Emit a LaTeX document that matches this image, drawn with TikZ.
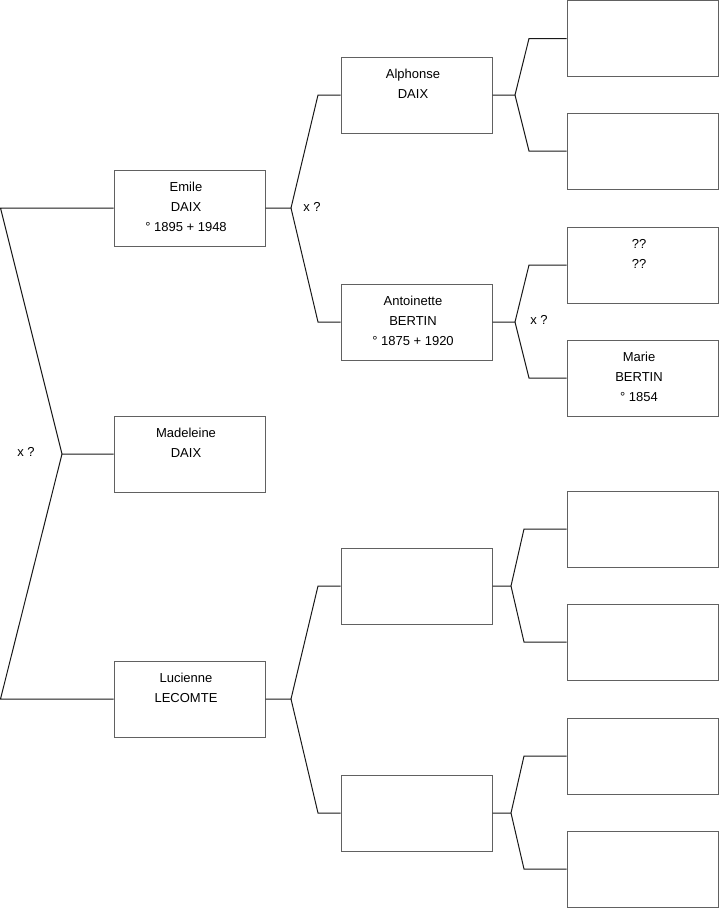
\documentclass[tikz,border=0pt]{standalone}
\usepackage{fontspec}
\setmainfont{Liberation Sans}
\newcommand{\ptxt}[1]{\parbox[b][76pt][t]{151pt}{\centering\rightskip=7pt plus 1fil\relax\fontsize{13pt}{20pt}\selectfont\rule{0pt}{21pt}#1}}
\begin{document}
\begin{tikzpicture}[x=1pt,y=-1pt,
  person/.style={draw=black!62,line width=1pt,inner sep=0pt,minimum width=151pt,minimum height=76pt},
  link/.style={draw=black!90,line width=1pt},
  marr/.style={font=\fontsize{13pt}{15pt}\selectfont,inner sep=0pt}]
\useasboundingbox (0,0) rectangle (719,908);
% generation 1
\node[person] (emile) at (189.5,208) {\ptxt{Emile\\DAIX\\° 1895 + 1948}};
\node[person] (madeleine) at (189.5,454) {\ptxt{Madeleine\\DAIX}};
\node[person] (lucienne) at (189.5,699) {\ptxt{Lucienne\\LECOMTE}};
% generation 2
\node[person] (alphonse) at (416.5,95) {\ptxt{Alphonse\\DAIX}};
\node[person] (antoinette) at (416.5,322) {\ptxt{Antoinette\\BERTIN\\° 1875 + 1920}};
\node[person] (ea) at (416.5,586) {\ptxt{}};
\node[person] (eb) at (416.5,813) {\ptxt{}};
% generation 3
\node[person] (r1) at (642.5,38.5) {\ptxt{}};
\node[person] (r2) at (642.5,151) {\ptxt{}};
\node[person] (r3) at (642.5,265) {\ptxt{??\\??}};
\node[person] (r4) at (642.5,378) {\ptxt{Marie\\BERTIN\\° 1854}};
\node[person] (r5) at (642.5,529) {\ptxt{}};
\node[person] (r6) at (642.5,642) {\ptxt{}};
\node[person] (r7) at (642.5,756) {\ptxt{}};
\node[person] (r8) at (642.5,869) {\ptxt{}};
% junction coordinates
\coordinate (c0a) at (0.5,208);
\coordinate (j0) at (62,454);
\coordinate (c0b) at (0.5,699);
\coordinate (j1) at (291,208);
\coordinate (c1a) at (318,95);
\coordinate (c1b) at (318,322);
\coordinate (j2) at (515,95);
\coordinate (c2a) at (529,38.5);
\coordinate (c2b) at (529,151);
\coordinate (j3) at (515,322);
\coordinate (c3a) at (529,265);
\coordinate (c3b) at (529,378);
\coordinate (j4) at (511,586);
\coordinate (c4a) at (524,529);
\coordinate (c4b) at (524,642);
\coordinate (j5) at (511,813);
\coordinate (c5a) at (524,756);
\coordinate (c5b) at (524,869);
\coordinate (j6) at (291,699);
\coordinate (c6a) at (318,586);
\coordinate (c6b) at (318,813);
% connectors
\draw[link] (emile.west) -- (c0a) -- (j0) -- (madeleine.west);
\draw[link] (j0) -- (c0b) -- (lucienne.west);
\draw[link] (emile.east) -- (j1) -- (c1a) -- (alphonse.west);
\draw[link] (j1) -- (c1b) -- (antoinette.west);
\draw[link] (alphonse.east) -- (j2) -- (c2a) -- (r1.west);
\draw[link] (j2) -- (c2b) -- (r2.west);
\draw[link] (antoinette.east) -- (j3) -- (c3a) -- (r3.west);
\draw[link] (j3) -- (c3b) -- (r4.west);
\draw[link] (ea.east) -- (j4) -- (c4a) -- (r5.west);
\draw[link] (j4) -- (c4b) -- (r6.west);
\draw[link] (eb.east) -- (j5) -- (c5a) -- (r7.west);
\draw[link] (j5) -- (c5b) -- (r8.west);
\draw[link] (lucienne.east) -- (j6) -- (c6a) -- (ea.west);
\draw[link] (j6) -- (c6b) -- (eb.west);
% marriage labels
\node[marr] (m0) at (26,452) {x ?};
\node[marr] (m1) at (312,207) {x ?};
\node[marr] (m2) at (539,320) {x ?};
\end{tikzpicture}
\end{document}
